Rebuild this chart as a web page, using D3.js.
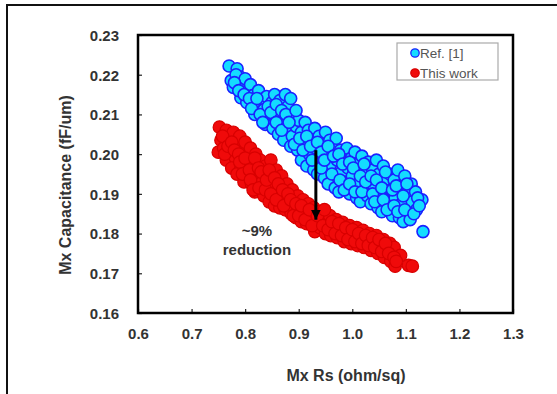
<!DOCTYPE html>
<html><head><meta charset="utf-8">
<script src="https://cdn.jsdelivr.net/npm/d3@7"></script>
<style>body{margin:0;background:#fff}svg{display:block}text{font-family:"Liberation Sans",Arial,sans-serif}</style>
</head><body>
<svg id="c" width="557" height="394"></svg>
<script>
const xTicks = [0.6,0.7,0.8,0.9,1.0,1.1,1.2,1.3];
const yTicks = [0.16,0.17,0.18,0.19,0.20,0.21,0.22,0.23];
const seriesNames = ["Ref. [1]", "This work"];
const refPoints = [[0.770,0.2222],[0.785,0.2215],[0.774,0.2185],[0.778,0.2168],[0.790,0.2195],[0.796,0.2172],[0.783,0.2200],[0.800,0.2190],[0.805,0.2160],[0.792,0.2142],[0.810,0.2175],[0.815,0.2148],[0.803,0.2130],[0.820,0.2120],[0.825,0.2160],[0.830,0.2138],[0.818,0.2100],[0.835,0.2112],[0.840,0.2145],[0.845,0.2090],[0.838,0.2075],[0.850,0.2130],[0.855,0.2150],[0.860,0.2105],[0.852,0.2065],[0.865,0.2135],[0.870,0.2085],[0.862,0.2050],[0.875,0.2150],[0.880,0.2120],[0.885,0.2140],[0.878,0.2065],[0.872,0.2035],[0.890,0.2095],[0.888,0.2045],[0.895,0.2070],[0.885,0.2020],[0.900,0.2085],[0.905,0.2055],[0.898,0.2010],[0.910,0.2030],[0.912,0.2080],[0.905,0.1985],[0.918,0.2060],[0.920,0.2000],[0.925,0.2040],[0.915,0.1970],[0.930,0.2065],[0.932,0.2015],[0.928,0.1960],[0.938,0.2045],[0.940,0.1990],[0.945,0.2025],[0.935,0.1950],[0.950,0.2055],[0.952,0.2005],[0.948,0.1940],[0.958,0.2035],[0.960,0.1975],[0.965,0.2015],[0.955,0.1925],[0.970,0.2040],[0.972,0.1985],[0.968,0.1915],[0.978,0.2010],[0.980,0.1955],[0.985,0.1995],[0.975,0.1905],[0.990,0.2015],[0.992,0.1965],[0.988,0.1925],[0.998,0.1990],[1.000,0.1945],[1.005,0.2005],[0.995,0.1900],[1.010,0.1975],[1.012,0.1925],[1.008,0.1890],[1.018,0.1995],[1.020,0.1955],[1.025,0.1910],[1.015,0.1880],[1.030,0.1980],[1.032,0.1940],[1.028,0.1895],[1.038,0.1960],[1.040,0.1920],[1.045,0.1985],[1.035,0.1875],[1.050,0.1950],[1.052,0.1900],[1.048,0.1865],[1.058,0.1970],[1.060,0.1930],[1.065,0.1885],[1.055,0.1855],[1.070,0.1950],[1.072,0.1910],[1.068,0.1860],[1.078,0.1935],[1.080,0.1890],[1.085,0.1960],[1.075,0.1845],[1.090,0.1920],[1.092,0.1875],[1.088,0.1840],[1.098,0.1945],[1.100,0.1900],[1.105,0.1855],[1.095,0.1830],[1.110,0.1925],[1.112,0.1880],[1.108,0.1835],[1.118,0.1905],[1.120,0.1860],[1.130,0.1885],[1.132,0.1805],
[0.780,0.2180],[0.788,0.2160],[0.798,0.2150],[0.808,0.2140],[0.812,0.2115],[0.822,0.2140],[0.828,0.2100],[0.833,0.2080],[0.843,0.2120],[0.848,0.2105],[0.858,0.2080],[0.858,0.2125],[0.868,0.2060],[0.868,0.2110],[0.876,0.2100],[0.882,0.2080],[0.892,0.2025],[0.895,0.2110],[0.902,0.2040],[0.908,0.2010],[0.915,0.2045],[0.922,0.2020],[0.925,0.1985],[0.935,0.2030],[0.942,0.2005],[0.942,0.1965],[0.948,0.1985],[0.955,0.2020],[0.962,0.1950],[0.965,0.1995],[0.975,0.2000],[0.977,0.1935],[0.982,0.1975],[0.985,0.1910],[0.995,0.1980],[0.995,0.1925],[1.002,0.1965],[1.005,0.1905],[1.015,0.1945],[1.018,0.1905],[1.022,0.1975],[1.025,0.1930],[1.035,0.1945],[1.038,0.1900],[1.042,0.1880],[1.045,0.1935],[1.055,0.1915],[1.058,0.1885],[1.062,0.1955],[1.065,0.1860],[1.075,0.1910],[1.078,0.1870],[1.082,0.1920],[1.085,0.1855],[1.095,0.1895],[1.098,0.1860],[1.102,0.1925],[1.115,0.1850],[1.122,0.1890],[1.125,0.1870]];
const thisWorkPoints = [[0.752,0.2068],[0.765,0.2060],[0.755,0.2035],[0.750,0.2005],[0.760,0.2015],[0.770,0.2040],[0.778,0.2055],[0.772,0.2005],[0.765,0.1985],[0.785,0.2030],[0.790,0.2045],[0.782,0.1990],[0.775,0.1965],[0.795,0.2010],[0.800,0.2030],[0.792,0.1965],[0.785,0.1950],[0.805,0.1990],[0.810,0.2015],[0.802,0.1945],[0.798,0.1930],[0.815,0.1975],[0.820,0.2000],[0.812,0.1925],[0.822,0.1950],[0.828,0.1985],[0.818,0.1905],[0.832,0.1930],[0.838,0.1970],[0.835,0.1895],[0.842,0.1950],[0.848,0.1985],[0.845,0.1880],[0.852,0.1920],[0.858,0.1960],[0.855,0.1870],[0.862,0.1900],[0.868,0.1945],[0.865,0.1865],[0.872,0.1890],[0.878,0.1925],[0.875,0.1860],[0.882,0.1875],[0.888,0.1910],[0.886,0.1850],[0.892,0.1865],[0.898,0.1895],[0.895,0.1840],[0.902,0.1860],[0.908,0.1885],[0.905,0.1830],[0.912,0.1850],[0.918,0.1875],[0.915,0.1825],[0.922,0.1840],[0.928,0.1865],[0.930,0.1805],[0.932,0.1830],[0.938,0.1855],[0.940,0.1815],[0.945,0.1840],[0.950,0.1800],[0.952,0.1825],[0.958,0.1845],[0.960,0.1795],[0.965,0.1815],[0.970,0.1835],[0.972,0.1790],[0.978,0.1810],[0.982,0.1828],[0.985,0.1780],[0.990,0.1800],[0.995,0.1820],[0.998,0.1775],[1.002,0.1795],[1.008,0.1815],[1.010,0.1770],[1.015,0.1790],[1.020,0.1808],[1.022,0.1765],[1.028,0.1785],[1.032,0.1800],[1.035,0.1758],[1.040,0.1778],[1.045,0.1795],[1.048,0.1750],[1.052,0.1770],[1.058,0.1785],[1.060,0.1740],[1.065,0.1760],[1.070,0.1775],[1.072,0.1730],[1.075,0.1752],[1.080,0.1718],[1.085,0.1745],[1.078,0.1765],[1.090,0.1745],[1.105,0.1720],[1.112,0.1718],
[0.758,0.2045],[0.762,0.2000],[0.768,0.2020],[0.775,0.2030],[0.780,0.2010],[0.788,0.2000],[0.790,0.1980],[0.795,0.1950],[0.800,0.1990],[0.808,0.1960],[0.810,0.1935],[0.815,0.1910],[0.818,0.1990],[0.825,0.1965],[0.826,0.1915],[0.830,0.1955],[0.838,0.1910],[0.840,0.1935],[0.845,0.1960],[0.848,0.1900],[0.855,0.1940],[0.858,0.1885],[0.862,0.1925],[0.870,0.1910],[0.872,0.1870],[0.880,0.1900],[0.885,0.1885],[0.890,0.1845],[0.895,0.1875],[0.900,0.1845],[0.905,0.1870],[0.912,0.1835],[0.920,0.1860],[0.925,0.1820],[0.935,0.1845],[0.945,0.1820],[0.948,0.1860],[0.955,0.1810],[0.962,0.1830],[0.968,0.1800],[0.975,0.1825],[0.980,0.1795],[0.988,0.1815],[0.992,0.1785],[1.000,0.1810],[1.005,0.1780],[1.012,0.1800],[1.018,0.1775],[1.025,0.1795],[1.030,0.1770],[1.038,0.1790],[1.042,0.1765],[1.050,0.1785],[1.055,0.1755],[1.062,0.1775],[1.068,0.1750],[1.078,0.1740],[1.082,0.1730]];
const arrowFrom = [0.932, 0.2010];
const arrowTo = [0.932, 0.1835];
const annotation = ["~9%", "reduction"];
const annotationAt = [0.822, 0.1795];

const svg = d3.select("#c");
const L = 138, R = 513, T = 35, B = 313;
const x = d3.scaleLinear().domain([0.6,1.3]).range([L,R]);
const y = d3.scaleLinear().domain([0.16,0.23]).range([B,T]);

svg.append("path").attr("d","M7,394V5H557").attr("fill","none").attr("stroke","#111").attr("stroke-width",2);

const gp = svg.append("g");
gp.selectAll("circle.tw").data(thisWorkPoints).join("circle").attr("class","tw")
  .attr("cx",d=>x(d[0])).attr("cy",d=>y(d[1])).attr("r",6.3)
  .attr("fill","#f00a0a").attr("stroke","#d80000").attr("stroke-width",1.2);
gp.selectAll("circle.ref").data(refPoints).join("circle").attr("class","ref")
  .attr("cx",d=>x(d[0])).attr("cy",d=>y(d[1])).attr("r",6.0)
  .attr("fill","#14dcff").attr("stroke","#1a22ff").attr("stroke-width",1.6);

const ax = svg.append("g").attr("transform",`translate(0,${B})`)
  .call(d3.axisBottom(x).tickValues(xTicks).tickSize(-4).tickFormat(d3.format(".1f")));
const ay = svg.append("g").attr("transform",`translate(${L},0)`)
  .call(d3.axisLeft(y).tickValues(yTicks).tickSize(-4).tickFormat(d3.format(".2f")));
[ax,ay].forEach(g=>{
  g.select(".domain").remove();
  g.selectAll(".tick line").attr("stroke","#222").attr("stroke-width",1.2);
  g.selectAll(".tick text").attr("fill","#333").attr("font-size","15px").attr("font-weight","bold");
});
ax.selectAll(".tick text").attr("dy","0").attr("y",26);
ay.selectAll(".tick text").attr("x",-19).attr("dy","0.36em");

svg.append("rect").attr("x",L).attr("y",T).attr("width",R-L).attr("height",B-T)
  .attr("fill","none").attr("stroke","#000").attr("stroke-width",2.5);

svg.append("defs").append("marker").attr("id","ah").attr("viewBox","0 0 10 10")
  .attr("refX",10).attr("refY",5).attr("markerWidth",3.2).attr("markerHeight",3.2)
  .attr("markerUnits","strokeWidth").attr("orient","auto")
  .append("path").attr("d","M0,0L10,5L0,10z").attr("fill","#000");
svg.append("line").attr("x1",x(arrowFrom[0])).attr("y1",y(arrowFrom[1]))
  .attr("x2",x(arrowTo[0])).attr("y2",y(arrowTo[1]))
  .attr("stroke","#000").attr("stroke-width",3).attr("marker-end","url(#ah)");

svg.append("text").attr("x",x(annotationAt[0])).attr("y",y(annotationAt[1]))
  .attr("text-anchor","middle").attr("font-size","15px").attr("font-weight","bold").attr("fill","#333")
  .selectAll("tspan").data(annotation).join("tspan")
  .attr("x",x(annotationAt[0])).attr("dy",(d,i)=>i?19:0).text(d=>d);

svg.append("rect").attr("x",397).attr("y",43).attr("width",101).attr("height",37)
  .attr("fill","#fff").attr("stroke","#aaa").attr("stroke-width",1.2);
const lg = svg.append("g");
const lcol = [["#14dcff","#1a22ff"],["#f00a0a","#d80000"]];
seriesNames.forEach((n,i)=>{
  lg.append("circle").attr("cx",415).attr("cy",53+i*20).attr("r",4.2)
    .attr("fill",lcol[i][0]).attr("stroke",lcol[i][1]).attr("stroke-width",1.3);
  lg.append("text").attr("x",420).attr("y",53+i*20).attr("dy","0.36em")
    .attr("font-size","13.5px").attr("fill","#555").text(n);
});

svg.append("text").attr("x",346).attr("y",375).attr("dy","0.36em").attr("text-anchor","middle")
  .attr("font-size","16px").attr("font-weight","bold").attr("fill","#333").text("Mx Rs (ohm/sq)");
svg.append("text").attr("transform","translate(65,185) rotate(-90)").attr("dy","0.36em").attr("text-anchor","middle")
  .attr("font-size","16px").attr("font-weight","bold").attr("fill","#333").text("Mx Capacitance (fF/um)");
</script>
</body></html>
